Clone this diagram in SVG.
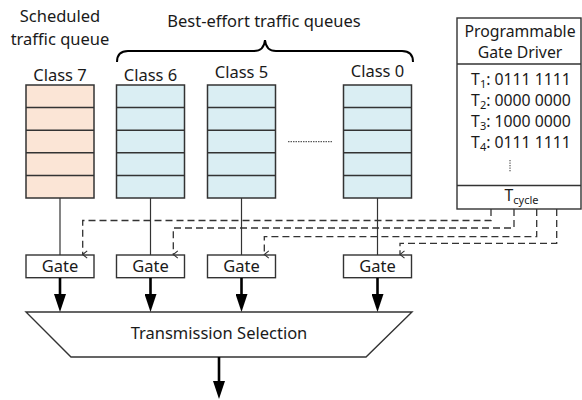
<svg xmlns="http://www.w3.org/2000/svg" width="582" height="400" viewBox="0 0 582 400">
<defs>
<style>
text{font-family:"Noto Sans","Open Sans","DejaVu Sans",sans-serif;fill:#1a1a1a;font-size:16.5px;text-anchor:middle}
.drv{font-size:15.8px}
.q7{fill:#fbe5d6;stroke:#333;stroke-width:1.5}
.qb{fill:#daeef3;stroke:#333;stroke-width:1.5}
.row{stroke:#333;stroke-width:1.5}
.box{fill:#fff;stroke:#333;stroke-width:1.4}
.thin{stroke:#333;stroke-width:1.2;fill:none}
.dash{stroke:#333;stroke-width:1.3;fill:none;stroke-dasharray:7 4}
.thick{stroke:#000;stroke-width:2.6;fill:none}
.sub{font-size:11px}
</style>
<marker id="open" viewBox="0 0 10 10" refX="5" refY="9" markerWidth="9" markerHeight="9" markerUnits="userSpaceOnUse" orient="auto-start-reverse">
<path d="M1,4 L5,9 L9,4" fill="none" stroke="#333" stroke-width="1.2"/>
</marker>
<marker id="solid" viewBox="0 0 18 12" refX="6" refY="6" markerWidth="18" markerHeight="12" markerUnits="userSpaceOnUse" orient="auto">
<path d="M0,0 L18,6 L0,12 Z" fill="#000"/>
</marker>
</defs>

<g id="labels">
<text x="60" y="22">Scheduled</text>
<text x="60" y="45">traffic queue</text>
<text x="264" y="27">Best-effort traffic queues</text>
<path d="M117,62 Q117,51 128,51 H254 Q264,51 265,40 Q266,51 276,51 H402 Q413,51 413,62" fill="none" stroke="#000" stroke-width="2"/>
</g>

<g id="queue7">
<text x="60" y="81">Class 7</text>
<rect class="q7" x="26" y="85" width="68" height="113"/>
<path class="row" d="M26,107.6H94M26,130.2H94M26,152.8H94M26,175.4H94"/>
</g>
<g id="queue6">
<text x="150.5" y="81">Class 6</text>
<rect class="qb" x="116.5" y="85" width="68" height="113"/>
<path class="row" d="M116.5,107.6H184.5M116.5,130.2H184.5M116.5,152.8H184.5M116.5,175.4H184.5"/>
</g>
<g id="queue5">
<text x="241.5" y="78">Class 5</text>
<rect class="qb" x="207.5" y="85" width="68" height="113"/>
<path class="row" d="M207.5,107.6H275.5M207.5,130.2H275.5M207.5,152.8H275.5M207.5,175.4H275.5"/>
</g>
<g id="ellipsis">
<line x1="288" y1="141.7" x2="332" y2="141.7" stroke="#333" stroke-width="1" stroke-dasharray="1.5 1"/>
</g>
<g id="queue0">
<text x="377.5" y="77">Class 0</text>
<rect class="qb" x="343.5" y="85" width="68" height="113"/>
<path class="row" d="M343.5,107.6H411.5M343.5,130.2H411.5M343.5,152.8H411.5M343.5,175.4H411.5"/>
</g>

<g id="driver">
<rect class="box" x="457" y="18" width="124" height="191"/>
<line class="row" x1="457" y1="64" x2="581" y2="64"/>
<line class="row" x1="457" y1="185.5" x2="581" y2="185.5"/>
<text class="drv" x="520" y="37">Programmable</text>
<text class="drv" x="520" y="58">Gate Driver</text>
<text class="drv" x="521" y="85">T<tspan class="sub" dy="3">1</tspan><tspan dy="-3">: 0111 1111</tspan></text>
<text class="drv" x="521" y="106">T<tspan class="sub" dy="3">2</tspan><tspan dy="-3">: 0000 0000</tspan></text>
<text class="drv" x="521" y="127">T<tspan class="sub" dy="3">3</tspan><tspan dy="-3">: 1000 0000</tspan></text>
<text class="drv" x="521" y="148">T<tspan class="sub" dy="3">4</tspan><tspan dy="-3">: 0111 1111</tspan></text>
<line x1="510" y1="160" x2="510" y2="172" stroke="#333" stroke-width="1" stroke-dasharray="1.3 1.2"/>
<text class="drv" x="521.5" y="201">T<tspan class="sub" dy="3">cycle</tspan></text>
</g>

<g id="gate7"><rect class="box" x="26" y="255" width="68" height="22.7"/><text x="60" y="272">Gate</text></g>
<g id="gate6"><rect class="box" x="116.5" y="255" width="68" height="22.7"/><text x="150.5" y="272">Gate</text></g>
<g id="gate5"><rect class="box" x="207.5" y="255" width="68" height="22.7"/><text x="241.5" y="272">Gate</text></g>
<g id="gate0"><rect class="box" x="343.5" y="255" width="68" height="22.7"/><text x="377.5" y="272">Gate</text></g>

<g id="selection">
<polygon class="box" points="26,312 412,312 366,357 71,357"/>
<text x="219" y="339">Transmission Selection</text>
</g>

<g id="connectors">
<line class="thin" x1="60" y1="198" x2="60" y2="255"/>
<line class="thin" x1="150.5" y1="198" x2="150.5" y2="255"/>
<line class="thin" x1="241.5" y1="198" x2="241.5" y2="255"/>
<line class="thin" x1="377.5" y1="198" x2="377.5" y2="255"/>
<path class="dash" d="M491,209V220.5H82.7V254.5" marker-end="url(#open)"/>
<path class="dash" d="M514,209V228H173.3V254.5" marker-end="url(#open)"/>
<path class="dash" d="M536.7,209V236.7H264.3V254.5" marker-end="url(#open)"/>
<path class="dash" d="M556.7,209V243.3H400V254.5" marker-end="url(#open)"/>
<line class="thick" x1="60" y1="278" x2="60" y2="300" marker-end="url(#solid)"/>
<line class="thick" x1="150.5" y1="278" x2="150.5" y2="300" marker-end="url(#solid)"/>
<line class="thick" x1="241.5" y1="278" x2="241.5" y2="300" marker-end="url(#solid)"/>
<line class="thick" x1="377.5" y1="278" x2="377.5" y2="300" marker-end="url(#solid)"/>
<line class="thick" x1="219" y1="357" x2="219" y2="387" marker-end="url(#solid)"/>
</g>
</svg>
